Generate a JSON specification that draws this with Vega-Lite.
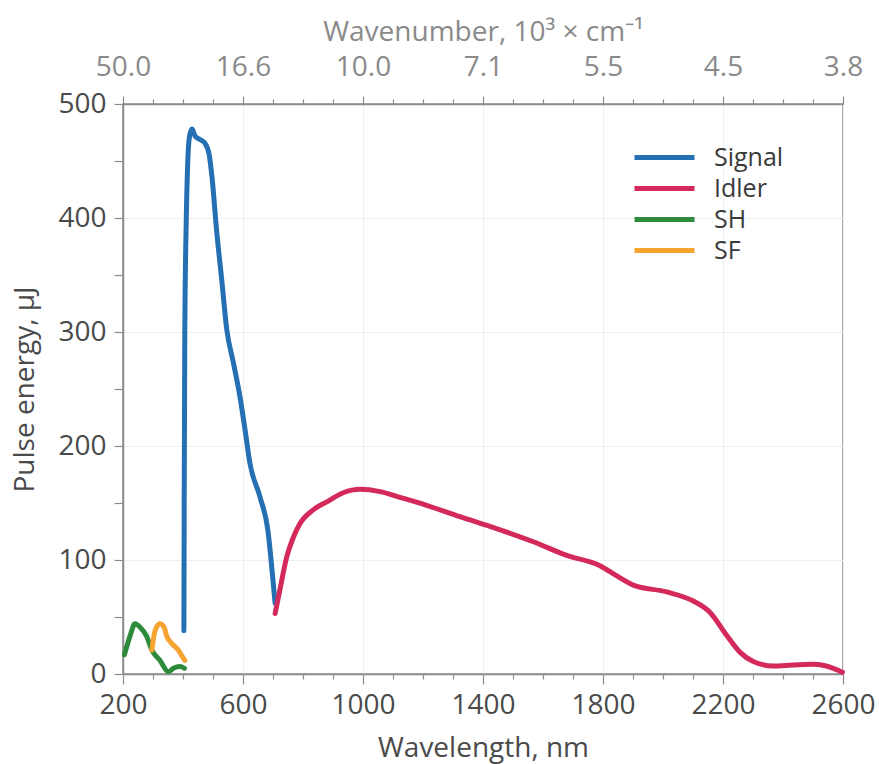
{
  "$schema": "https://vega.github.io/schema/vega-lite/v6.json",
  "width": 720,
  "height": 570,
  "autosize": {"type": "none"},
  "padding": {"left": 123, "top": 104, "right": 36, "bottom": 90},
  "background": "white",
  "config": {
    "font": "Open Sans",
    "view": {"stroke": "#8c8c8c", "strokeWidth": 1.5},
    "axis": {"labelFont": "Open Sans", "titleFont": "Open Sans", "titleFontWeight": "normal"}
  },
  "data": {
    "values": [
      {"s": "SH", "wl": 205, "e": 17},
      {"s": "SH", "wl": 223, "e": 33},
      {"s": "SH", "wl": 240, "e": 44},
      {"s": "SH", "wl": 257, "e": 41},
      {"s": "SH", "wl": 279, "e": 33},
      {"s": "SH", "wl": 296, "e": 21},
      {"s": "SH", "wl": 323, "e": 12},
      {"s": "SH", "wl": 351, "e": 2},
      {"s": "SH", "wl": 368, "e": 5},
      {"s": "SH", "wl": 390, "e": 6.5},
      {"s": "SH", "wl": 405, "e": 5},
      {"s": "SF", "wl": 296, "e": 21},
      {"s": "SF", "wl": 307, "e": 38},
      {"s": "SF", "wl": 323, "e": 44},
      {"s": "SF", "wl": 337, "e": 41},
      {"s": "SF", "wl": 346, "e": 33},
      {"s": "SF", "wl": 362, "e": 27},
      {"s": "SF", "wl": 384, "e": 21},
      {"s": "SF", "wl": 401, "e": 14},
      {"s": "SF", "wl": 406, "e": 12},
      {"s": "Signal", "wl": 403, "e": 38},
      {"s": "Signal", "wl": 404, "e": 150},
      {"s": "Signal", "wl": 406, "e": 300},
      {"s": "Signal", "wl": 411, "e": 400},
      {"s": "Signal", "wl": 416, "e": 450},
      {"s": "Signal", "wl": 422, "e": 472},
      {"s": "Signal", "wl": 430, "e": 478},
      {"s": "Signal", "wl": 440, "e": 472},
      {"s": "Signal", "wl": 455, "e": 469},
      {"s": "Signal", "wl": 472, "e": 466},
      {"s": "Signal", "wl": 487, "e": 456},
      {"s": "Signal", "wl": 497, "e": 435},
      {"s": "Signal", "wl": 512, "e": 389},
      {"s": "Signal", "wl": 529, "e": 346},
      {"s": "Signal", "wl": 546, "e": 302},
      {"s": "Signal", "wl": 568, "e": 273},
      {"s": "Signal", "wl": 590, "e": 243},
      {"s": "Signal", "wl": 607, "e": 214},
      {"s": "Signal", "wl": 623, "e": 185},
      {"s": "Signal", "wl": 657, "e": 155},
      {"s": "Signal", "wl": 683, "e": 126},
      {"s": "Signal", "wl": 700, "e": 82},
      {"s": "Signal", "wl": 707, "e": 62},
      {"s": "Idler", "wl": 707, "e": 53},
      {"s": "Idler", "wl": 723, "e": 74},
      {"s": "Idler", "wl": 746, "e": 103},
      {"s": "Idler", "wl": 768, "e": 120},
      {"s": "Idler", "wl": 790, "e": 132},
      {"s": "Idler", "wl": 834, "e": 144},
      {"s": "Idler", "wl": 879, "e": 151},
      {"s": "Idler", "wl": 934, "e": 159},
      {"s": "Idler", "wl": 990, "e": 162},
      {"s": "Idler", "wl": 1057, "e": 160},
      {"s": "Idler", "wl": 1123, "e": 155},
      {"s": "Idler", "wl": 1212, "e": 148},
      {"s": "Idler", "wl": 1323, "e": 138},
      {"s": "Idler", "wl": 1440, "e": 128},
      {"s": "Idler", "wl": 1568, "e": 116},
      {"s": "Idler", "wl": 1679, "e": 104},
      {"s": "Idler", "wl": 1790, "e": 95},
      {"s": "Idler", "wl": 1846, "e": 86},
      {"s": "Idler", "wl": 1901, "e": 78},
      {"s": "Idler", "wl": 2012, "e": 72},
      {"s": "Idler", "wl": 2101, "e": 64},
      {"s": "Idler", "wl": 2157, "e": 54},
      {"s": "Idler", "wl": 2212, "e": 34},
      {"s": "Idler", "wl": 2257, "e": 19},
      {"s": "Idler", "wl": 2301, "e": 11},
      {"s": "Idler", "wl": 2368, "e": 7},
      {"s": "Idler", "wl": 2434, "e": 8},
      {"s": "Idler", "wl": 2501, "e": 8.5},
      {"s": "Idler", "wl": 2568, "e": 5},
      {"s": "Idler", "wl": 2598, "e": 1.5}
    ]
  },
  "resolve": {"axis": {"x": "independent"}},
  "layer": [
    {
      "mark": {"type": "line", "strokeWidth": 5, "interpolate": "monotone", "strokeCap": "round", "strokeJoin": "round"},
      "encoding": {
        "x": {
          "field": "wl", "type": "quantitative",
          "scale": {"domain": [200, 2600], "nice": false, "zero": false},
          "axis": {
            "orient": "bottom",
            "title": "Wavelength, nm",
            "values": [200,300,400,500,600,700,800,900,1000,1100,1200,1300,1400,1500,1600,1700,1800,1900,2000,2100,2200,2300,2400,2500,2600],
            "labelExpr": "(datum.value - 200) % 400 == 0 ? datum.value : ''",
            "labelFontSize": 28, "labelColor": "#4a4a4a", "labelPadding": 7,
            "titleFontSize": 28, "titleColor": "#4a4a4a", "titlePadding": 15,
            "domainColor": "#8c8c8c", "domainWidth": 1.5,
            "tickColor": "#8c8c8c", "tickWidth": 1.2,
            "tickSize": {"condition": {"test": "(datum.value - 200) % 400 == 0", "value": 10}, "value": 5},
            "grid": true, "gridColor": "#efefef",
            "gridOpacity": {"condition": {"test": "(datum.value - 200) % 400 == 0", "value": 1}, "value": 0},
            "labelFlush": false
          }
        },
        "y": {
          "field": "e", "type": "quantitative",
          "scale": {"domain": [0, 500], "nice": false},
          "axis": {
            "title": "Pulse energy, µJ",
            "values": [0,50,100,150,200,250,300,350,400,450,500],
            "labelExpr": "datum.value % 100 == 0 ? datum.value : ''",
            "labelFontSize": 28, "labelColor": "#4a4a4a", "labelPadding": 8,
            "titleFontSize": 28, "titleColor": "#4a4a4a", "titlePadding": 18,
            "domainColor": "#8c8c8c", "domainWidth": 1.5,
            "tickColor": "#8c8c8c", "tickWidth": 1.2, "tickSize": 9,
            "grid": true, "gridColor": "#efefef",
            "gridOpacity": {"condition": {"test": "datum.value % 100 == 0 && datum.value > 0 && datum.value < 500", "value": 1}, "value": 0},
            "labelFlush": false
          }
        },
        "color": {
          "field": "s", "type": "nominal",
          "scale": {"domain": ["Signal", "Idler", "SH", "SF"], "range": ["#2470b2", "#d42a5b", "#2e8b3c", "#f5a431"]},
          "legend": {
            "title": null,
            "orient": "none",
            "legendX": 529,
            "legendY": 41,
            "symbolType": "M-3,0L3,0",
            "symbolSize": 400,
            "symbolStrokeWidth": 5,
            "labelFontSize": 25,
            "labelColor": "#3a3a3a",
            "labelFont": "Open Sans",
            "rowPadding": 5,
            "labelOffset": 37,
            "symbolOpacity": 1
          }
        },
        "detail": {"field": "s"}
      }
    },
    {
      "mark": {"type": "rule", "strokeOpacity": 0},
      "encoding": {
        "x": {
          "field": "wl", "type": "quantitative",
          "axis": {
            "orient": "top",
            "title": "Wavenumber, 10³ × cm⁻¹",
            "values": [200,300,400,500,600,700,800,900,1000,1100,1200,1300,1400,1500,1600,1700,1800,1900,2000,2100,2200,2300,2400,2500,2600],
            "labelExpr": "(datum.value - 200) % 400 == 0 ? format(floor(100000 / datum.value) / 10, '.1f') : ''",
            "labelFontSize": 28, "labelColor": "#8a8a8a", "labelPadding": 15,
            "titleFontSize": 28, "titleColor": "#8a8a8a", "titlePadding": 7,
            "domainColor": "#8c8c8c", "domainWidth": 1.5,
            "tickColor": "#8c8c8c", "tickWidth": 1.2,
            "tickSize": {"condition": {"test": "(datum.value - 200) % 400 == 0", "value": 8}, "value": 5},
            "grid": false,
            "labelFlush": false
          }
        }
      }
    }
  ]
}
